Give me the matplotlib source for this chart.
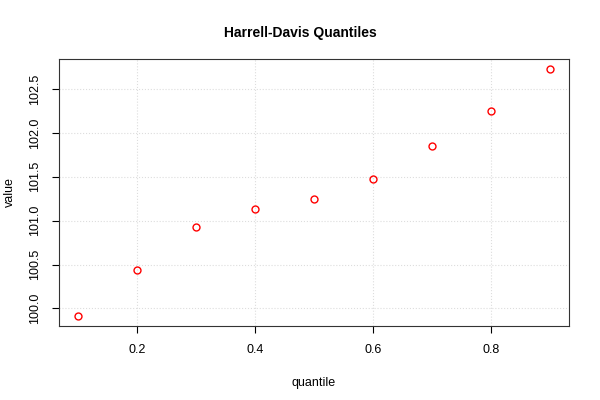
import numpy as np
import matplotlib
matplotlib.use("Agg")
import matplotlib.pyplot as plt

plt.rcParams['font.family'] = ['Liberation Sans', 'DejaVu Sans']

# Harrell-Davis quantile estimates
quantile = np.array([0.1, 0.2, 0.3, 0.4, 0.5, 0.6, 0.7, 0.8, 0.9])
value = np.array([99.913, 100.443, 100.93, 101.136, 101.247, 101.47, 101.856, 102.25, 102.73])

xticks = [0.2, 0.4, 0.6, 0.8]
yticks = [100.0, 100.5, 101.0, 101.5, 102.0, 102.5]

fig = plt.figure(figsize=(6, 4), dpi=100)
ax = fig.add_axes([0.0983, 0.185, 0.85, 0.6675])

ax.plot(quantile, value, 'o', mfc='none', mec='red', ms=5, mew=1)

# R-style 4% padding
xr = quantile.max() - quantile.min()
yr = value.max() - value.min()
ax.set_xlim(quantile.min() - 0.04 * xr, quantile.max() + 0.04 * xr)
ax.set_ylim(value.min() - 0.04 * yr, value.max() + 0.04 * yr)

ax.set_xticks(xticks)
ax.set_xticklabels(["0.2", "0.4", "0.6", "0.8"])
ax.set_yticks(yticks)
ax.set_yticklabels(["100.0", "100.5", "101.0", "101.5", "102.0", "102.5"],
                   rotation=90, va='center')
ax.grid(True, color='#dddddd', linestyle=':', linewidth=0.8)
ax.set_axisbelow(True)
ax.tick_params(labelsize=9, length=5, pad=8)
for s in ax.spines.values():
    s.set_linewidth(0.8)
    s.set_color('#333333')

ax.set_xlabel("quantile", fontsize=9)
ax.set_ylabel("value", fontsize=9, va='center')
ax.xaxis.set_label_coords(0.5, -0.19)
ax.yaxis.set_label_coords(-0.096, 0.5)
fig.suptitle("Harrell-Davis Quantiles", fontsize=10, fontweight='bold', y=0.935)

fig.savefig("out.png", dpi=100)
